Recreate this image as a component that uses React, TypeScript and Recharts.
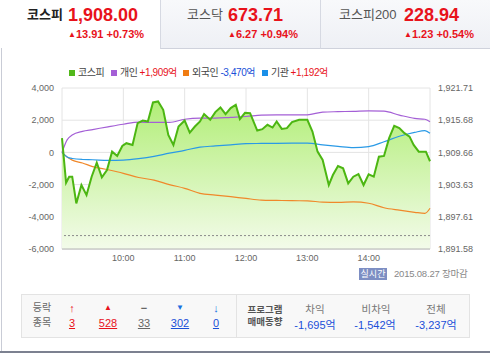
import { ComposedChart, Area, Line, XAxis, YAxis, CartesianGrid, ReferenceLine } from 'recharts';

const FONT = "'Liberation Sans', 'Noto Sans CJK KR', sans-serif";
const AXIS_FONT = "'Liberation Sans Narrow', 'Liberation Sans', sans-serif";

// minutes after 09:00
const kospiTimes = [0, 4, 7, 10, 14, 19, 24, 29, 34, 39, 44, 49, 54, 59, 63, 69, 74, 79, 84, 89, 94, 99, 104, 109, 114, 120, 125, 130, 135, 139, 145, 150, 155, 160, 165, 170, 174, 179, 184, 191, 196, 201, 206, 210, 215, 220, 225, 232, 240, 245, 250, 255, 261, 265, 270, 275, 280, 285, 290, 295, 300, 305, 310, 315, 320, 325, 330, 335, 340, 344, 349, 356, 360];
const kospiValues = [1912.32, 1903.98, 1905.11, 1905.11, 1900.11, 1903.55, 1901.67, 1905.11, 1907.73, 1904.99, 1906.36, 1909.8, 1908.99, 1910.87, 1911.38, 1911.06, 1915.14, 1915.62, 1915.44, 1919.01, 1919.19, 1917.63, 1912.94, 1911.06, 1914.5, 1915.62, 1913.37, 1914.5, 1915.44, 1916.83, 1915.76, 1917.2, 1918.07, 1916.83, 1917.95, 1918.57, 1915.89, 1917.07, 1917.01, 1913.75, 1914.01, 1914.82, 1914.31, 1915.44, 1914.06, 1914.2, 1915.32, 1915.76, 1915.76, 1913.56, 1909.8, 1908.24, 1903.55, 1905.42, 1907.11, 1906.68, 1903.87, 1905.11, 1905.61, 1903.55, 1905.56, 1905.11, 1908.86, 1908.99, 1912.32, 1914.63, 1914.2, 1913.26, 1912.62, 1911.06, 1909.8, 1909.8, 1908.0];
const prevClose = 1894.09;

const investorTimes = [0, 5, 10, 20, 30, 45, 60, 75, 90, 105, 120, 135, 150, 165, 180, 195, 210, 225, 240, 255, 270, 285, 300, 315, 330, 345, 355, 360];
const personal = [0, 780, 1080, 1310, 1420, 1590, 1750, 1880, 1860, 1860, 2060, 2130, 2130, 2180, 2230, 2310, 2336, 2336, 2336, 2500, 2530, 2550, 2585, 2560, 2320, 2110, 2060, 1909];
const foreign = [0, -290, -480, -660, -880, -1080, -1300, -1560, -1720, -2000, -2230, -2540, -2650, -2750, -2860, -2960, -2980, -3000, -3007, -3090, -3105, -3075, -3160, -3440, -3590, -3720, -3790, -3470];
const institution = [0, -280, -380, -440, -456, -500, -480, -390, -250, -50, 125, 330, 400, 470, 543, 555, 565, 570, 571, 470, 380, 300, 359, 660, 1000, 1240, 1357, 1192];

const hourTicks = [60, 120, 180, 240, 300];
const leftTicks = [-6000, -4000, -2000, 0, 2000, 4000];
const rightTicks = [1891.58, 1897.61, 1903.63, 1909.66, 1915.68, 1921.71];

const kospiData = kospiTimes.map((t, i) => ({ t, kospi: kospiValues[i] }));
const investorData = investorTimes.map((t, i) => ({
  t,
  personal: personal[i],
  foreign: foreign[i],
  institution: institution[i],
}));

const RED = '#e8121b';
const BLUE = '#1a4fd8';
const abs = (left: number, top: number, extra: any = {}) => ({ position: 'absolute' as const, left, top, whiteSpace: 'nowrap' as const, ...extra });

function Tab({ x, w, name, value, change, active, nameX, valX }: any) {
  return (
    <div style={abs(x, 0, {
      width: w, height: 48,
      background: active ? '#fff' : 'linear-gradient(#f8f9fb, #eef0f5)',
      borderLeft: x > 0 ? '1px solid #d6d9e2' : 'none',
      borderBottom: active ? 'none' : '1px solid #cfd2dc',
    })}>
      <span style={abs(nameX - x, 6, { fontSize: 13, lineHeight: '18px', fontWeight: active ? 'bold' : 'normal', color: active ? '#222' : '#555' })}>{name}</span>
      <span style={abs(valX - x, 4, { fontSize: 18, lineHeight: '22px', fontWeight: 'bold', color: RED })}>{value}</span>
      <span style={abs(valX - x, 28, { fontSize: 11, lineHeight: '13px', fontWeight: 'bold', color: RED })}>
        <span style={{ fontSize: 8, verticalAlign: 1 }}>▲</span>{change}
      </span>
    </div>
  );
}

function LegendItem({ x, color, label, value, valueColor }: any) {
  return (
    <div style={abs(x, 66, { fontSize: 10, lineHeight: '13px', color: '#444', display: 'flex', alignItems: 'center', letterSpacing: -0.4 })}>
      <span style={{ display: 'inline-block', width: 6, height: 6, background: color, marginRight: 3 }} />
      <span>{label}</span>
      {value && <span style={{ color: valueColor, marginLeft: 2 }}>{value}</span>}
    </div>
  );
}

function Cell({ cx, cy, children, style }: any) {
  return (
    <div style={abs(cx - 30, cy - 7, { width: 60, textAlign: 'center', lineHeight: '14px', ...style })}>{children}</div>
  );
}

export default function App() {
  return (
    <div style={{ position: 'absolute', left: 0, top: 0, width: 490, height: 356, background: '#fff', fontFamily: FONT, overflow: 'hidden' }}>
      <div style={abs(1, 0, { width: 1, height: 352, background: '#c9ccd6' })} />
      <div style={abs(0, 351, { width: 490, height: 2, background: '#7c8190' })} />

      <Tab x={0} w={160} active name="코스피" value="1,908.00" change="13.91 +0.73%" nameX={27} valX={68} />
      <Tab x={160} w={160} name="코스닥" value="673.71" change="6.27 +0.94%" nameX={186} valX={227} />
      <Tab x={320} w={170} name="코스피200" value="228.94" change="1.23 +0.54%" nameX={338} valX={403} />

      <LegendItem x={69} color="#52b81a" label="코스피" />
      <LegendItem x={111} color="#a45fd6" label="개인" value="+1,909억" valueColor={RED} />
      <LegendItem x={183} color="#f07c12" label="외국인" value="-3,470억" valueColor={BLUE} />
      <LegendItem x={262} color="#1a8fe8" label="기관" value="+1,192억" valueColor={RED} />

      <div style={abs(0, 80)}>
        <ComposedChart width={490} height={195} data={investorData} margin={{ top: 8, right: 0, bottom: 0, left: 0 }}>
          <defs>
            <linearGradient id="kospiFill" x1="0" y1="0" x2="0" y2="1">
              <stop offset="0%" stopColor="#b2ee78" />
              <stop offset="100%" stopColor="#f3fbea" />
            </linearGradient>
          </defs>
          <CartesianGrid stroke="#e4e4e4" yAxisId="left" />
          <XAxis
            dataKey="t"
            type="number"
            domain={[0, 360]}
            ticks={hourTicks}
            tickFormatter={(t: number) => `${9 + t / 60}:00`}
            tick={{ fontSize: 9, fill: '#666', fontFamily: AXIS_FONT }}
            tickLine={false}
            tickSize={4}
            tickMargin={2}
            axisLine={{ stroke: '#b5b5b5' }}
            height={26}
          />
          <YAxis
            yAxisId="left"
            domain={[-6000, 4000]}
            ticks={leftTicks}
            tickFormatter={(v: number) => v.toLocaleString('en-US')}
            tick={{ fontSize: 9, fill: '#666', fontFamily: AXIS_FONT }}
            tickLine={false}
            axisLine={false}
            width={62}
          />
          <YAxis
            yAxisId="right"
            orientation="right"
            domain={[1891.58, 1921.71]}
            ticks={rightTicks}
            tickFormatter={(v: number) => v.toLocaleString('en-US', { minimumFractionDigits: 2 })}
            tick={{ fontSize: 9, fill: '#666', fontFamily: AXIS_FONT }}
            tickLine={false}
            axisLine={false}
            width={60}
          />
          <Area
            yAxisId="right"
            data={kospiData}
            dataKey="kospi"
            type="linear"
            baseValue="dataMin"
            fill="url(#kospiFill)"
            fillOpacity={1}
            stroke="none"
            isAnimationActive={false}
          />
          <ReferenceLine yAxisId="right" y={prevClose} stroke="#8a8a8a" strokeDasharray="2 2" />
          <Line yAxisId="left" dataKey="personal" type="monotone" stroke="#a45fd6" strokeWidth={1.2} dot={false} isAnimationActive={false} />
          <Line yAxisId="left" dataKey="foreign" type="monotone" stroke="#f0882a" strokeWidth={1.2} dot={false} isAnimationActive={false} />
          <Line yAxisId="left" dataKey="institution" type="monotone" stroke="#2a9ae6" strokeWidth={1.2} dot={false} isAnimationActive={false} />
          <Line yAxisId="right" data={kospiData} dataKey="kospi" type="linear" stroke="#4cb612" strokeWidth={2} dot={false} isAnimationActive={false} />
        </ComposedChart>
      </div>

      <div style={abs(359, 268, { width: 28, height: 12, background: '#7d8ec3', color: '#fff', fontSize: 9, lineHeight: '12px', textAlign: 'center' })}>실시간</div>
      <div style={abs(394, 267, { fontSize: 9.5, lineHeight: '14px', color: '#888', letterSpacing: -0.2 })}>2015.08.27 장마감</div>

      <div style={abs(21, 294, { width: 447, height: 42, background: '#f8f8f8', border: '1px solid #e3e3e3' })} />
      <div style={abs(236, 295, { width: 1, height: 42, background: '#e3e3e3' })} />

      <Cell cx={42} cy={308} style={{ fontSize: 10, color: '#666' }}>등락</Cell>
      <Cell cx={42} cy={323} style={{ fontSize: 10, color: '#666' }}>종목</Cell>
      <Cell cx={72} cy={308} style={{ fontSize: 11, color: RED, fontWeight: 'bold' }}>↑</Cell>
      <Cell cx={72} cy={323} style={{ fontSize: 11, color: RED, textDecoration: 'underline' }}>3</Cell>
      <Cell cx={108} cy={308} style={{ fontSize: 8, color: RED }}>▲</Cell>
      <Cell cx={108} cy={323} style={{ fontSize: 11, color: RED, textDecoration: 'underline' }}>528</Cell>
      <Cell cx={144} cy={308} style={{ fontSize: 11, color: '#666', fontWeight: 'bold' }}>−</Cell>
      <Cell cx={144} cy={323} style={{ fontSize: 11, color: '#666', textDecoration: 'underline' }}>33</Cell>
      <Cell cx={180} cy={308} style={{ fontSize: 8, color: '#1a6fe0' }}>▼</Cell>
      <Cell cx={180} cy={323} style={{ fontSize: 11, color: '#1a4fd8', textDecoration: 'underline' }}>302</Cell>
      <Cell cx={216} cy={308} style={{ fontSize: 11, color: '#1a6fe0', fontWeight: 'bold' }}>↓</Cell>
      <Cell cx={216} cy={323} style={{ fontSize: 11, color: '#1a4fd8', textDecoration: 'underline' }}>0</Cell>

      <Cell cx={265} cy={310} style={{ fontSize: 9.5, color: '#555', fontWeight: 'bold' }}>프로그램</Cell>
      <Cell cx={265} cy={322} style={{ fontSize: 9.5, color: '#555', fontWeight: 'bold' }}>매매동향</Cell>
      <Cell cx={315} cy={309} style={{ fontSize: 10.5, color: '#777' }}>차익</Cell>
      <Cell cx={315} cy={325} style={{ fontSize: 11, color: BLUE }}>-1,695억</Cell>
      <Cell cx={376} cy={309} style={{ fontSize: 10.5, color: '#777' }}>비차익</Cell>
      <Cell cx={375} cy={325} style={{ fontSize: 11, color: BLUE }}>-1,542억</Cell>
      <Cell cx={436} cy={309} style={{ fontSize: 10.5, color: '#777' }}>전체</Cell>
      <Cell cx={436} cy={325} style={{ fontSize: 11, color: BLUE }}>-3,237억</Cell>
    </div>
  );
}
